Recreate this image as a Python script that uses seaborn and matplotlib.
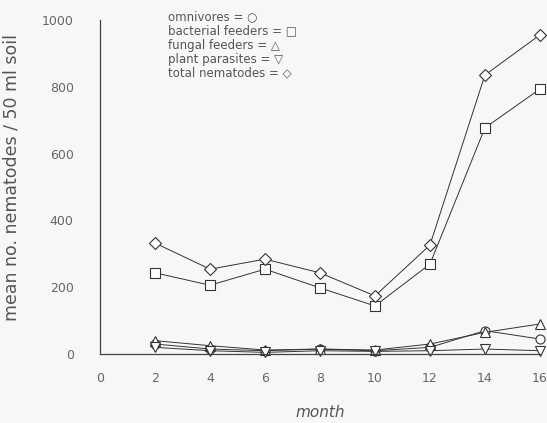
import matplotlib
matplotlib.use("Agg")
import matplotlib.pyplot as plt
import seaborn as sns
import pandas as pd

months = [2, 4, 6, 8, 10, 12, 14, 16]
omnivores = [30, 15, 10, 15, 10, 20, 70, 45]
bacterial = [243, 206, 254, 198, 144, 269, 677, 793]
fungal = [40, 25, 12, 15, 12, 30, 65, 90]
plant = [20, 10, 5, 10, 8, 10, 15, 10]
total = [332, 254, 284, 243, 174, 326, 835, 955]

series = {
    "omnivores": (omnivores, "o"),
    "bacterial feeders": (bacterial, "s"),
    "fungal feeders": (fungal, "^"),
    "plant parasites": (plant, "v"),
    "total nematodes": (total, "D"),
}

rows = []
for name, (vals, m) in series.items():
    for mo, v in zip(months, vals):
        rows.append({"month": mo, "value": v, "group": name})
df = pd.DataFrame(rows)

sns.set_style("white")
fig = plt.figure(figsize=(5.47, 4.23), dpi=100)
fig.patch.set_facecolor("#f7f7f7")
ax = fig.add_axes([0.183, 0.163, 0.804, 0.79])
ax.set_facecolor("#f7f7f7")

for name, (vals, m) in series.items():
    sub = df[df.group == name]
    ms = 6.5 if m != "D" else 6
    sns.lineplot(data=sub, x="month", y="value", ax=ax, color="#333333",
                 linewidth=0.7, marker=m, markersize=ms,
                 markerfacecolor="white", markeredgecolor="#333333",
                 markeredgewidth=0.8, clip_on=False, legend=False)

ax.set_xlim(0, 16)
ax.set_ylim(0, 1000)
ax.set_xticks([0, 2, 4, 6, 8, 10, 12, 14, 16])
ax.set_yticks([0, 200, 400, 600, 800, 1000])
ax.tick_params(axis="both", colors="#777777", labelcolor="#666666",
               labelsize=9, length=3, width=0.6, direction="out")
ax.tick_params(axis="y", pad=16)
ax.tick_params(axis="x", pad=10)
sns.despine(ax=ax)
for s in ["left", "bottom"]:
    ax.spines[s].set_color("#444444")
    ax.spines[s].set_linewidth(0.9)

ax.set_xlabel("month", fontsize=11, color="#555555", style="italic", labelpad=14)
ax.set_ylabel("mean no. nematodes / 50 ml soil", fontsize=12.5, color="#555555")
ax.yaxis.set_label_coords(-0.18, 0.527)

legend_text = ("omnivores = \u25cb\n"
               "bacterial feeders = \u25a1\n"
               "fungal feeders = \u25b3\n"
               "plant parasites = \u25bd\n"
               "total nematodes = \u25c7")
fig.text(0.307, 0.975, legend_text, fontsize=8.5, color="#555555",
         va="top", ha="left", linespacing=1.1)

fig.savefig("out.png", dpi=100, facecolor=fig.get_facecolor())
